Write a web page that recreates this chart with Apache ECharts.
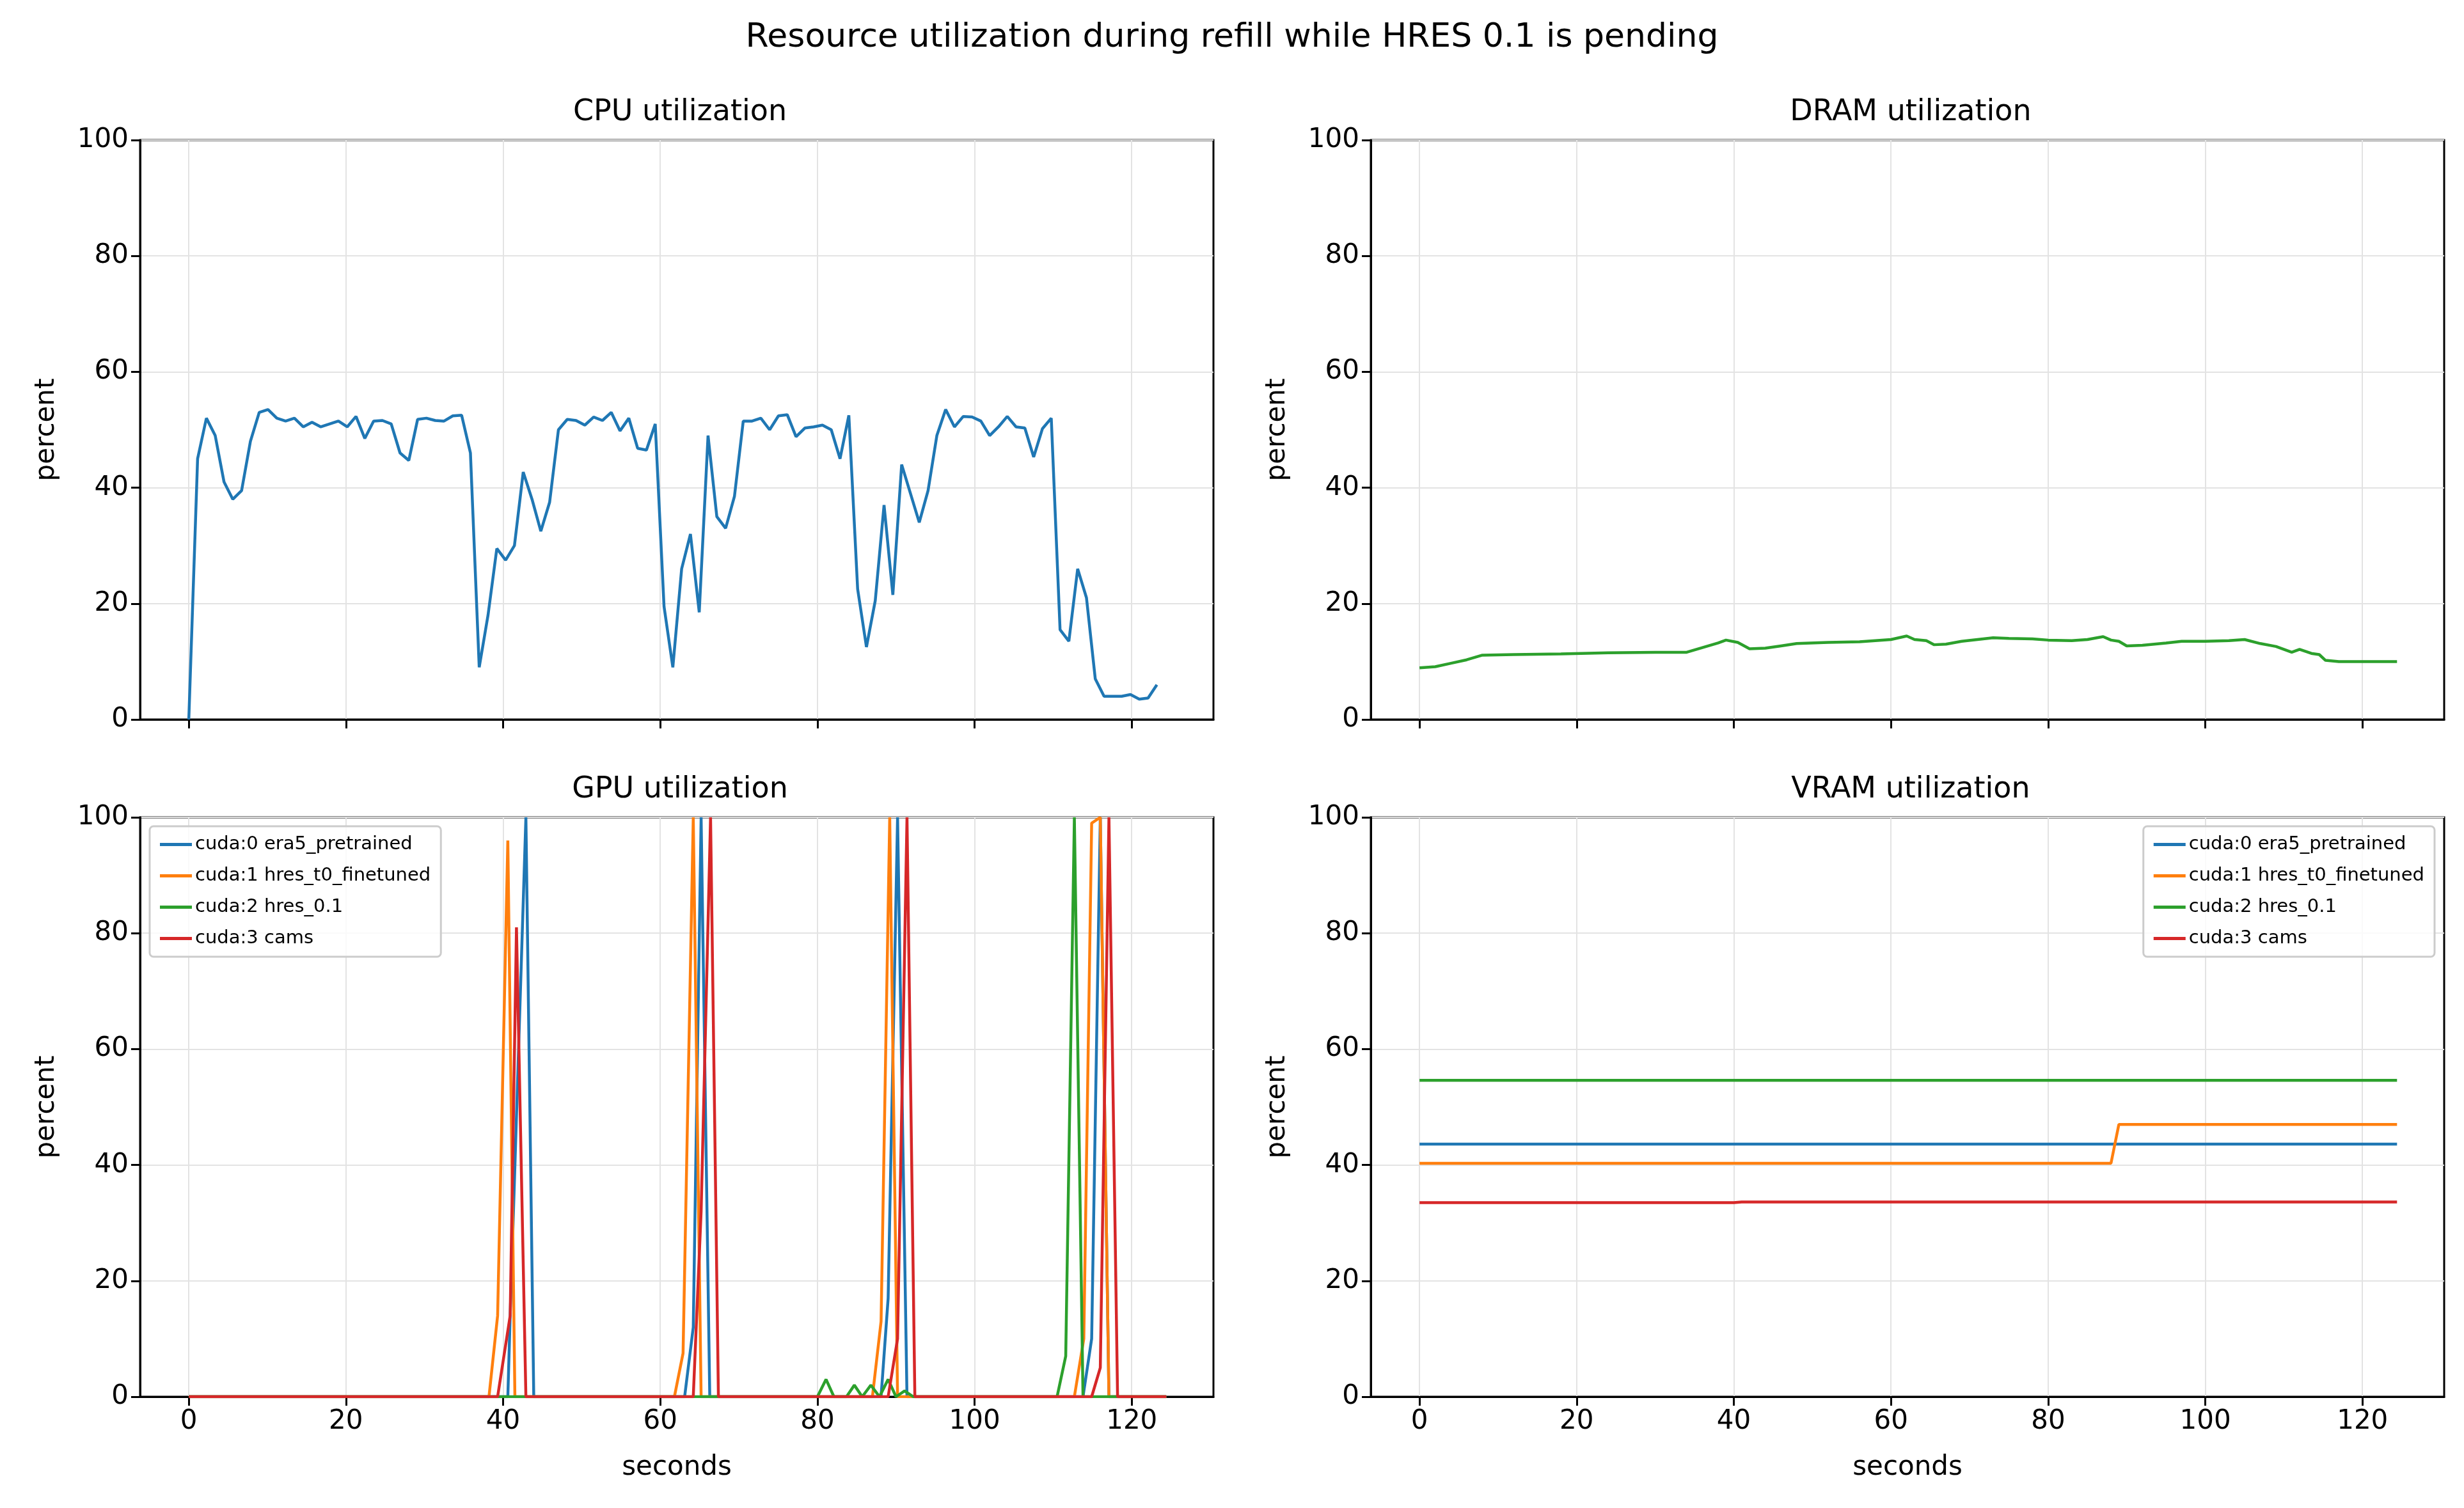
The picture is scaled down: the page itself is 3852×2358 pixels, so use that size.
<!DOCTYPE html>
<html><head><meta charset="utf-8">
<script src="https://cdn.jsdelivr.net/npm/echarts@6/dist/echarts.min.js"></script>
<style>html,body{margin:0;padding:0;background:#fff}#c{width:3852px;height:2358px}</style>
</head><body><div id="c"></div>
<script>
const DT = 1.12;
const cpuValues = [0,45,52,49,41,38,39.5,48,53,53.5,52,51.5,52,50.5,51.3,50.5,51,51.5,50.5,52.3,48.5,51.5,51.6,51,46,44.7,51.8,52,51.6,51.5,52.4,52.5,46,9,18,29.5,27.5,30,42.7,38,32.5,37.5,50,51.8,51.6,50.8,52.2,51.6,53,49.8,52,46.8,46.5,51,19.5,9,26,32,18.5,49,35,33,38.5,51.5,51.5,52,50,52.4,52.6,48.8,50.3,50.5,50.8,50,45,52.5,22.5,12.5,20.5,37,21.5,44,39,34,39.5,49,53.5,50.5,52.3,52.2,51.5,49,50.5,52.3,50.5,50.3,45.3,50.2,52,15.5,13.5,26,21,7,4,4,4,4.3,3.5,3.7,6];
const dramPoints = [[0,8.9],[2,9.1],[4,9.7],[6,10.3],[8,11.1],[12,11.2],[18,11.3],[24,11.5],[30,11.6],[34,11.6],[36,12.4],[38,13.2],[39,13.7],[40.5,13.3],[42,12.2],[44,12.3],[46,12.7],[48,13.1],[52,13.3],[56,13.4],[60,13.8],[62,14.4],[63,13.8],[64.5,13.6],[65.5,12.9],[67,13],[69,13.5],[71,13.8],[73,14.1],[75,14],[78,13.9],[80,13.7],[83,13.6],[85,13.8],[87,14.3],[88,13.7],[89,13.5],[90,12.7],[92,12.8],[95,13.2],[97,13.5],[100,13.5],[103,13.6],[105,13.8],[107,13.1],[109,12.6],[111,11.6],[112,12.1],[113.5,11.4],[114.5,11.2],[115.3,10.2],[117,10],[120,10],[124.4,10]];
const gpuNames = ['cuda:0 era5_pretrained','cuda:1 hres_t0_finetuned','cuda:2 hres_0.1','cuda:3 cams'];
const gpu0 = [[0,0],[40.6,0],[40.9,14],[42.9,100],[43.9,0],[63.1,0],[64.2,12],[65.2,100],[66.3,0],[88.1,0],[89,17],[90.2,100],[91.4,0],[113.8,0],[114.9,10],[116,100],[117.1,0],[124.4,0]];
const gpu1 = [[0,0],[38.2,0],[39.3,14],[40.6,96],[41.5,0],[61.8,0],[62.9,7.5],[64.2,100],[65.2,0],[87,0],[88.1,13],[89.2,100],[90.2,0],[112.7,0],[113.9,10],[114.9,99],[116,100],[117.1,0],[124.4,0]];
const gpu2 = [[0,0],[80,0],[81.1,3],[82.1,0],[83.7,0],[84.7,2],[85.7,0],[86.8,2],[87.9,0],[89,3],[90,0],[91.1,1],[92.2,0],[110.5,0],[111.6,7],[112.7,100],[113.8,0],[124.4,0]];
const gpu3 = [[0,0],[39.3,0],[40.9,14],[41.7,81],[42.9,0],[64.2,0],[65.2,32],[66.4,100],[67.4,0],[89,0],[90.2,10],[91.4,100],[92.4,0],[114.9,0],[116,5],[117.1,100],[118.2,0],[124.4,0]];
const vram0 = [[0,43.6],[124.4,43.6]];
const vram1 = [[0,40.3],[88,40.3],[89,47],[124.4,47]];
const vram2 = [[0,54.6],[124.4,54.6]];
const vram3 = [[0,33.5],[40,33.5],[41,33.6],[124.4,33.6]];
const xTicks = [0,20,40,60,80,100,120];
const colors = ['#1f77b4','#ff7f0e','#2ca02c','#d62728'];

const cpu = cpuValues.map((v,i)=>[+(i*DT).toFixed(2),v]);
const grids = [
  {left:219,top:219,width:1678,height:906},
  {left:2143,top:219,width:1678,height:906},
  {left:219,top:1278,width:1678,height:906},
  {left:2143,top:1278,width:1678,height:906}
].map(g=>Object.assign(g,{show:true,borderColor:'#000',borderWidth:3,backgroundColor:'transparent'}));
const font = 'DejaVu Sans';
function xa(i,labels){return {type:'value',gridIndex:i,min:-6.2,max:130.4,
  name: labels?'seconds':'', nameLocation:'middle', nameGap:90, nameTextStyle:{fontSize:42,color:'#000',fontFamily:font},
  axisLine:{show:true,onZero:false,lineStyle:{color:'#000',width:3}},
  axisTick:{show:true,inside:false,length:14,lineStyle:{color:'#000',width:3},customValues:xTicks},
  axisLabel:{show:labels,fontSize:42,color:'#000',fontFamily:font,margin:18,customValues:xTicks},
  splitLine:{show:true,lineStyle:{color:'#e3e3e3',width:2}}};}
function ya(i){return {type:'value',gridIndex:i,min:0,max:100,interval:20,
  name:'percent',nameLocation:'middle',nameGap:125,nameTextStyle:{fontSize:42,color:'#000',fontFamily:font},
  axisLine:{show:true,onZero:false,lineStyle:{color:'#000',width:3}},
  axisTick:{show:true,inside:false,length:14,lineStyle:{color:'#000',width:3}},
  axisLabel:{fontSize:42,color:'#000',fontFamily:font,margin:18},
  splitLine:{show:true,lineStyle:{color:'#e3e3e3',width:2}}};}
function ln(name,data,xi,color){return {name,type:'line',xAxisIndex:xi,yAxisIndex:xi,data,showSymbol:false,
  lineStyle:{width:4.5,color},itemStyle:{color},animation:false};}
const series = [ln('cpu',cpu,0,colors[0]),ln('dram',dramPoints,1,colors[2])];
[gpu0,gpu1,gpu2,gpu3].forEach((d,k)=>series.push(ln(gpuNames[k],d,2,colors[k])));
[vram0,vram1,vram2,vram3].forEach((d,k)=>series.push(ln(gpuNames[k],d,3,colors[k])));
const legendBase = {data:gpuNames,orient:'vertical',icon:'rect',itemWidth:50,itemHeight:5,itemGap:20,
  textStyle:{fontSize:29,color:'#000',fontFamily:font},backgroundColor:'rgba(255,255,255,0.8)',borderColor:'#ccc',borderWidth:3,borderRadius:6,padding:[14,16]};
const ts = {fontSize:46,fontWeight:'normal',color:'#000',fontFamily:font};
const titles = [
  {text:'Resource utilization during refill while HRES 0.1 is pending',left:'center',top:28,textStyle:{fontSize:52,fontWeight:'normal',color:'#000',fontFamily:font}},
  {text:'CPU utilization',left:1058,top:148,textAlign:'center',textStyle:ts},
  {text:'DRAM utilization',left:2982,top:148,textAlign:'center',textStyle:ts},
  {text:'GPU utilization',left:1058,top:1207,textAlign:'center',textStyle:ts},
  {text:'VRAM utilization',left:2982,top:1207,textAlign:'center',textStyle:ts}
];
const chart = echarts.init(document.getElementById('c'));
chart.setOption({backgroundColor:'#fff',animation:false,title:titles,grid:grids,
  xAxis:[xa(0,false),xa(1,false),xa(2,true),xa(3,true)],
  yAxis:[ya(0),ya(1),ya(2),ya(3)],
  legend:[Object.assign({},legendBase,{left:234,top:1292}),Object.assign({},legendBase,{right:46,top:1292})],
  series});
</script></body></html>
